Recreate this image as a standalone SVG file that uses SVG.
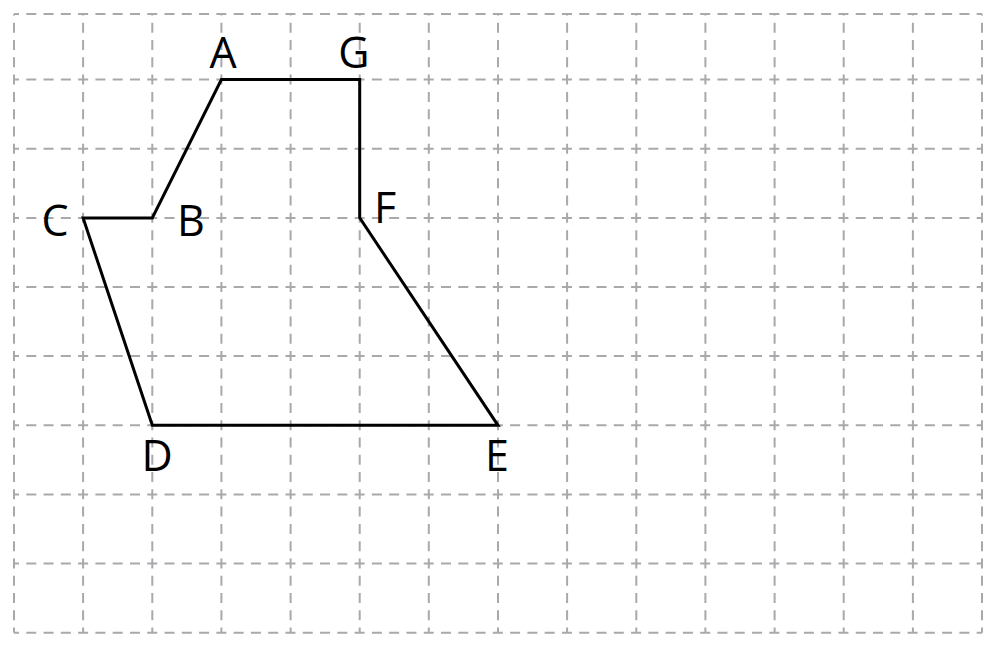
<svg xmlns="http://www.w3.org/2000/svg" width="997" height="648" viewBox="0 0 997 648">
<style>
.grid line{stroke:#a9a9ad;stroke-width:2;stroke-dasharray:10 7.28;fill:none}
.grid .h{stroke-dashoffset:5}
.grid .v{stroke-dashoffset:8.5}
.shape{fill:none;stroke:#000;stroke-width:3;stroke-linejoin:miter}
.lbl{font-family:"Open Sans","Noto Sans",sans-serif;font-size:43px;fill:#000;text-anchor:middle}
</style>
<rect width="997" height="648" fill="#fff"/>
<g id="grid" class="grid">
<line class="h" x1="14" y1="14" x2="982" y2="14"/>
<line class="h" x1="14" y1="79.6" x2="982" y2="79.6"/>
<line class="h" x1="14" y1="148.7" x2="982" y2="148.7"/>
<line class="h" x1="14" y1="217.9" x2="982" y2="217.9"/>
<line class="h" x1="14" y1="287" x2="982" y2="287"/>
<line class="h" x1="14" y1="356.1" x2="982" y2="356.1"/>
<line class="h" x1="14" y1="425.3" x2="982" y2="425.3"/>
<line class="h" x1="14" y1="494.4" x2="982" y2="494.4"/>
<line class="h" x1="14" y1="563.6" x2="982" y2="563.6"/>
<line class="h" x1="14" y1="632.7" x2="982" y2="632.7"/>
<line class="v" x1="14" y1="14" x2="14" y2="632.7"/>
<line class="v" x1="83.1" y1="14" x2="83.1" y2="632.7"/>
<line class="v" x1="152.3" y1="14" x2="152.3" y2="632.7"/>
<line class="v" x1="221.4" y1="14" x2="221.4" y2="632.7"/>
<line class="v" x1="290.6" y1="14" x2="290.6" y2="632.7"/>
<line class="v" x1="359.7" y1="14" x2="359.7" y2="632.7"/>
<line class="v" x1="428.8" y1="14" x2="428.8" y2="632.7"/>
<line class="v" x1="498" y1="14" x2="498" y2="632.7"/>
<line class="v" x1="567.1" y1="14" x2="567.1" y2="632.7"/>
<line class="v" x1="636.3" y1="14" x2="636.3" y2="632.7"/>
<line class="v" x1="705.4" y1="14" x2="705.4" y2="632.7"/>
<line class="v" x1="774.6" y1="14" x2="774.6" y2="632.7"/>
<line class="v" x1="843.7" y1="14" x2="843.7" y2="632.7"/>
<line class="v" x1="912.9" y1="14" x2="912.9" y2="632.7"/>
<line class="v" x1="982" y1="14" x2="982" y2="632.7"/>
</g>
<g id="polygon">
<polygon class="shape" points="221.4,79.6 359.7,79.6 359.7,217.9 498,425.3 152.3,425.3 83.1,217.9 152.3,217.9"/>
</g>
<g id="labels">
<text id="label-A" class="lbl" x="223" y="68">A</text>
<text id="label-G" class="lbl" x="354" y="68">G</text>
<text id="label-C" class="lbl" x="55" y="236">C</text>
<text id="label-B" class="lbl" x="191" y="236">B</text>
<text id="label-F" class="lbl" x="385" y="223">F</text>
<text id="label-D" class="lbl" x="157" y="471">D</text>
<text id="label-E" class="lbl" x="497" y="471">E</text>
</g>
</svg>
